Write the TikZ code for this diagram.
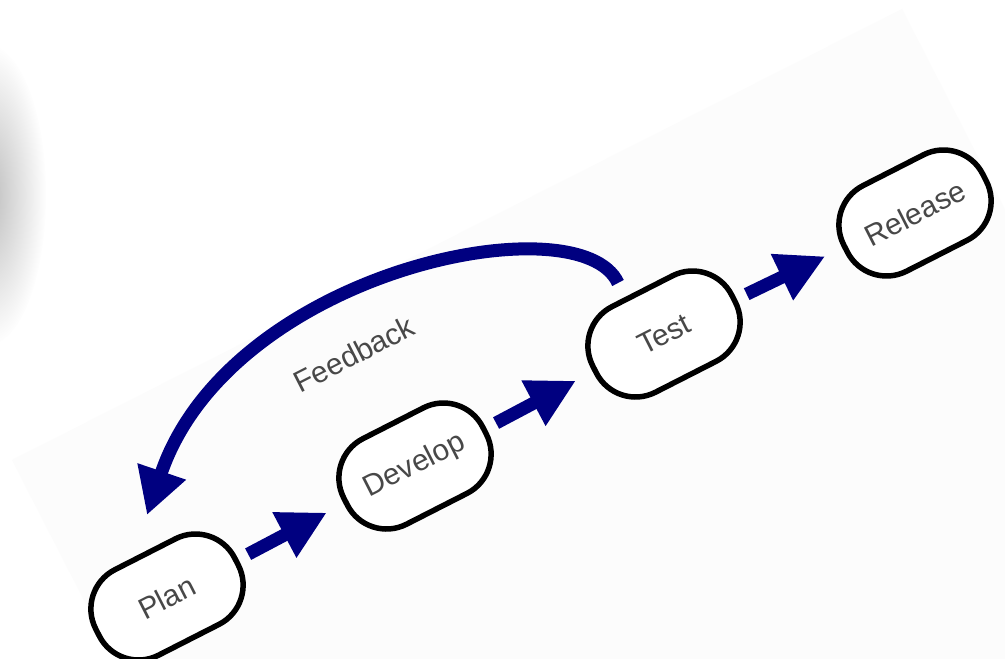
\documentclass[tikz,border=0pt]{standalone}
\usepackage{fontspec}
\setmainfont{Liberation Sans}
\usetikzlibrary{arrows.meta,fadings,calc}
\definecolor{flowblue}{RGB}{0,0,128}
\definecolor{labelgray}{RGB}{72,72,72}
\definecolor{sheet}{RGB}{252,252,252}
\tikzfading[name=softblob, inner color=transparent!0, outer color=transparent!100]

\begin{document}
\begin{tikzpicture}[x=0.1mm, y=-0.1mm,
  stage/.style={draw=black, line width=0.55mm, rounded corners=4.4mm,
    minimum width=15.6mm, minimum height=9.6mm, inner sep=0pt, fill=white,
    rotate=27, font=\fontsize{8.5}{10}\selectfont, text=labelgray},
  flowarrow/.style={draw=flowblue, line width=1.3mm,
    -{Triangle[length=4.8mm, width=4.8mm]},
    shorten <=1.1mm, shorten >=1.9mm},
  loopback/.style={draw=flowblue, line width=1.3mm,
    -{Triangle[length=4.6mm, width=4.8mm]}},
  tag/.style={rotate=27, font=\fontsize{8.5}{10}\selectfont, text=labelgray}]

\useasboundingbox (0,0) rectangle (1005,658);
\fill[white] (0,0) rectangle (1005,658);

% tilted sheet and the soft grey smudge on the left edge
\begin{scope}
  \clip (0,0) rectangle (1005,658);
  \fill[sheet] (12,460) -- (902,9) -- (1359,899) -- (469,1350) -- cycle;
  \fill[black!26, path fading=softblob] (-12,195) ellipse [x radius=58, y radius=150];
\end{scope}

% process stages
\node[stage] (plan)    at (167,597) {Plan};
\node[stage] (develop) at (415,466) {Develop};
\node[stage] (test)    at (664,334) {Test};
\node[stage] (release) at (915,213) {Release};

% forward flow
\draw[flowarrow] (plan) -- (develop);
\draw[flowarrow] (develop) -- (test);
\draw[flowarrow] (test) -- (release);

% feedback loop from Test back to Plan
\coordinate (fbstart) at ([shift={(-46,-51)}]test.center);
\coordinate (fbend)   at ([shift={(-20,-82)}]plan.center);
\draw[loopback] (fbstart) .. controls (580,200) and (230,270) .. (fbend);
\node[tag] (fblabel) at (354,354) {Feedback};

\end{tikzpicture}
\end{document}
